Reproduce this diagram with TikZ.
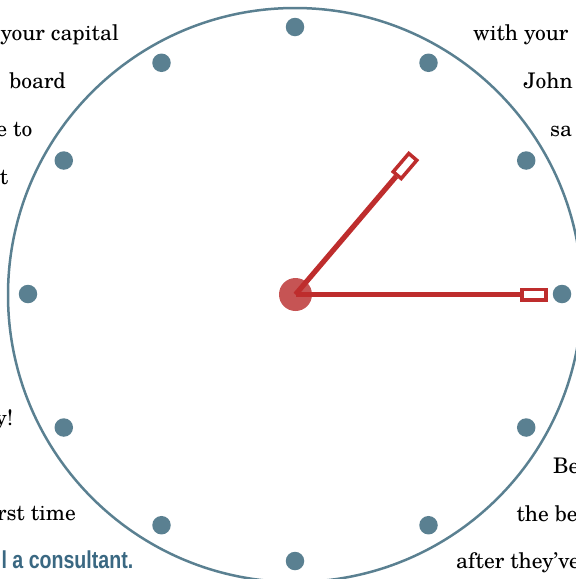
\documentclass[tikz,border=0pt]{standalone}
\usepackage{fontspec}
\usetikzlibrary{calc}
\setmainfont{TeX Gyre Schola}
\newfontfamily\narrowsans{Liberation Sans}[FakeStretch=0.8]
\definecolor{dialblue}{RGB}{90,128,145}
\definecolor{handred}{RGB}{190,45,45}
\definecolor{hubred}{RGB}{198,84,84}
\definecolor{tagblue}{RGB}{58,104,130}
\tikzset{
  dialdot/.style={circle, fill=dialblue, inner sep=0pt, minimum size=18.5pt},
  handline/.style={draw=handred, line width=5.2pt},
  handbox/.style={draw=handred, fill=white, line width=3.5pt, inner sep=0pt, minimum width=24pt, minimum height=10.5pt},
  lefttxt/.style={anchor=base east, inner sep=0pt, font=\fontsize{21.5}{24}\selectfont},
  righttxt/.style={anchor=base west, inner sep=0pt, font=\fontsize{21.5}{24}\selectfont},
}
\begin{document}
\begin{tikzpicture}[x=1pt,y=-1pt]
\useasboundingbox (0,0) rectangle (576,579);
\clip (0,0) rectangle (576,579);
% dial
\node[circle, draw=dialblue, line width=2.5pt, inner sep=0pt, minimum size=574pt] (dial) at (295,295) {};
\foreach \i in {0,...,11}{
  \node[dialdot] (d\i) at ($(295,294)+({sin(30*\i)*267},{-cos(30*\i)*267})$) {};
}
% hub and hands
\node[circle, fill=hubred, inner sep=0pt, minimum size=33pt] (hub) at (295.5,294.5) {};
\node[handbox, rotate=49.5] (hourbox) at (405,166) {};
\node[handbox] (minbox) at (534,294.5) {};
\draw[handline] (hub.center) -- (hourbox.west);
\draw[handline] (hub.center) -- (minbox.west);
% texts left
\node[lefttxt] (l1) at (119,40) {your capital};
\node[lefttxt] (l2) at (66,88) {board};
\node[lefttxt] (l3) at (32.5,136) {e to};
\node[lefttxt] (l4) at (8.5,184) {et};
\node[lefttxt] (l5) at (13.5,425) {y!};
\node[lefttxt] (l6) at (76,520) {rst time};
\node[anchor=base east, inner sep=0pt, text=tagblue, font=\narrowsans\bfseries\fontsize{24.5}{26}\selectfont] (l7) at (133.5,568) {l a consultant.};
% texts right
\node[righttxt] (r1) at (473,40) {with your};
\node[righttxt] (r2) at (523.5,88) {John};
\node[righttxt] (r3) at (550,136) {sa};
\node[righttxt] (r4) at (553,473) {Be};
\node[righttxt] (r5) at (516.5,521) {the be};
\node[righttxt] (r6) at (456,568) {after they’ve};
\end{tikzpicture}
\end{document}
